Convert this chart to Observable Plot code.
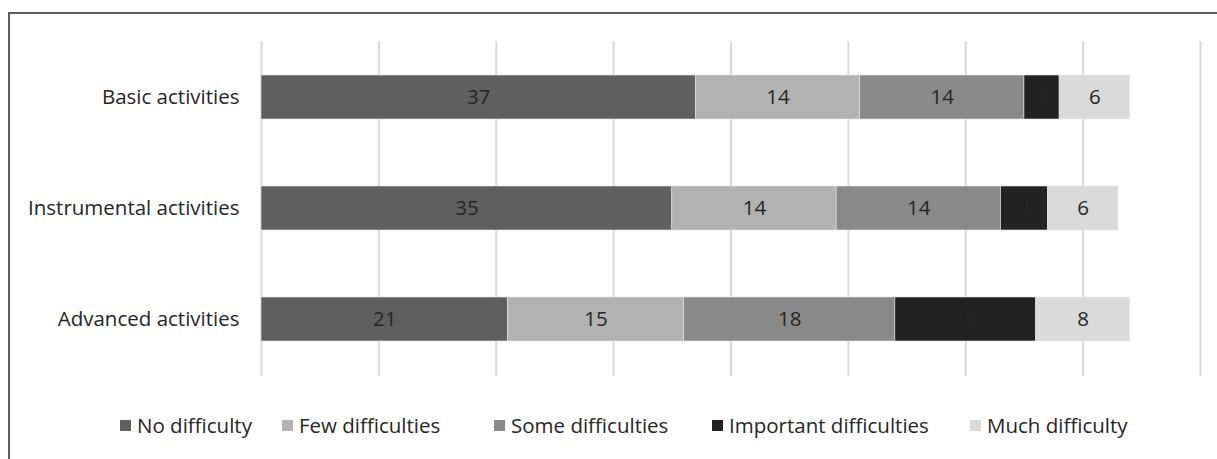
<!DOCTYPE html>
<html>
<head>
<meta charset="utf-8">
<script src="https://cdn.jsdelivr.net/npm/d3@7"></script>
<script src="https://cdn.jsdelivr.net/npm/@observablehq/plot@0.6"></script>
<style>
  html, body { margin: 0; padding: 0; background: #fff; }
  body { width: 1217px; height: 459px; position: relative; overflow: hidden; font-family: "Open Sans", sans-serif; }
  #frame { position: absolute; left: 8px; top: 12px; width: 1230px; height: 470px; border-left: 2px solid #5f5f5f; border-top: 2px solid #5f5f5f; box-sizing: border-box; }
  #chart { position: absolute; left: 0; top: 0; }
  .leg { position: absolute; top: 411px; font-size: 20.5px; color: #262626; white-space: nowrap; line-height: 28px; }
  .leg span.sw { display: inline-block; width: 11px; height: 11px; margin-right: 6px; vertical-align: 2px; }
</style>
</head>
<body>
<div id="frame"></div>
<div id="chart"></div>
<div id="legend"></div>
<script>
const categories = ["Basic activities", "Instrumental activities", "Advanced activities"];
const seriesNames = ["No difficulty", "Few difficulties", "Some difficulties", "Important difficulties", "Much difficulty"];
const seriesColors = ["#5f5f5f", "#b2b2b2", "#898989", "#222222", "#d9d9d9"];
const noDifficulty = [37, 35, 21];
const fewDifficulties = [14, 14, 15];
const someDifficulties = [14, 14, 18];
const importantDifficulties = [3, 4, 12];
const muchDifficulty = [6, 6, 8];
const xTicks = [0, 10, 20, 30, 40, 50, 60, 70, 80];
const legendLeft = [120, 282, 494, 712, 970];

const seriesValues = [noDifficulty, fewDifficulties, someDifficulties, importantDifficulties, muchDifficulty];
const data = [];
categories.forEach((c, i) => {
  seriesNames.forEach((s, j) => data.push({cat: c, series: s, value: seriesValues[j][i]}));
});

const chart = Plot.plot({
  width: 1217,
  height: 395,
  marginLeft: 261,
  marginRight: 17,
  marginTop: 41,
  marginBottom: 19,
  style: {fontFamily: "'Open Sans', sans-serif", fontSize: "20.5px", color: "#262626", background: "transparent"},
  x: {domain: [0, 80], axis: null},
  y: {domain: categories, paddingInner: 0.6, paddingOuter: 0.3, label: null},
  color: {domain: seriesNames, range: seriesColors},
  marks: [
    Plot.ruleX(xTicks, {stroke: "#d9d9d9", strokeWidth: 2}),
    Plot.barX(data, Plot.stackX({x: "value", y: "cat", fill: "series", z: "series", inset: 0, stroke: "#e6e6e6", strokeWidth: 0.6})),
    Plot.text(data, Plot.stackX({x: "value", y: "cat", z: "series", text: d => String(d.value), fill: "#262626", fontSize: 20.5})),
    Plot.axisY({tickSize: 0, tickPadding: 22, fontSize: 20.5, label: null, fill: "#262626"})
  ]
});
document.getElementById("chart").appendChild(chart);

const legend = document.getElementById("legend");
seriesNames.forEach((s, j) => {
  const d = document.createElement("div");
  d.className = "leg";
  d.style.left = legendLeft[j] + "px";
  const sw = document.createElement("span");
  sw.className = "sw";
  sw.style.background = seriesColors[j];
  d.appendChild(sw);
  d.appendChild(document.createTextNode(s));
  legend.appendChild(d);
});
</script>
</body>
</html>
